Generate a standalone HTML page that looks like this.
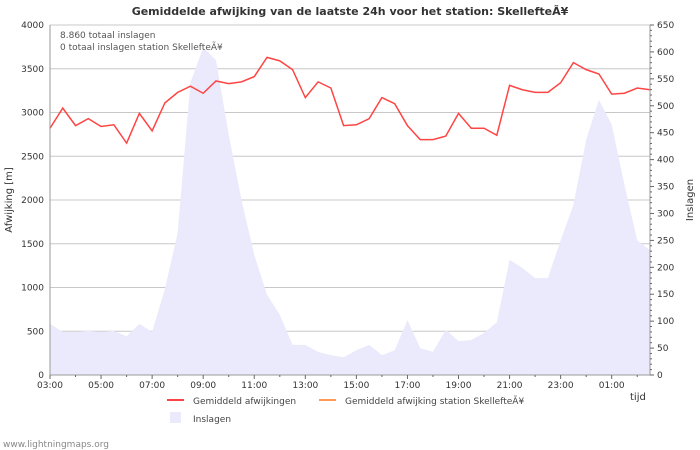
<!DOCTYPE html>
<html><head><meta charset="utf-8"><style>
html,body{margin:0;padding:0;background:#fff;}
svg{display:block;font-family:"DejaVu Sans","Liberation Sans",sans-serif;}
</style></head><body>
<svg id="chart" width="700" height="450" xmlns="http://www.w3.org/2000/svg"></svg>
<script>
const avgDeviation=[2820,3050,2850,2930,2840,2860,2650,2990,2790,3110,3230,3300,3220,3360,3330,3350,3410,3630,3590,3490,3170,3350,3280,2850,2860,2930,3170,3100,2850,2690,2690,2730,2990,2820,2820,2740,3310,3260,3230,3230,3340,3570,3490,3440,3210,3220,3280,3260];
const strikes=[95,80,80,82,80,82,72,95,80,160,264,543,608,585,446,325,223,149,112,56,56,43,37,33,46,56,37,46,102,50,43,84,63,65,78,98,214,199,180,180,250,316,437,511,465,353,250,232];
const xLabels=["03:00","05:00","07:00","09:00","11:00","13:00","15:00","17:00","19:00","21:00","23:00","01:00"];
const leftTicks=[0,500,1000,1500,2000,2500,3000,3500,4000];
const rightTicks=[0,50,100,150,200,250,300,350,400,450,500,550,600,650];

const NS="http://www.w3.org/2000/svg";
const svg=document.getElementById('chart');
const L=50,R=650,T=25,B=375;
const n=avgDeviation.length;
const xs=i=>L+i*(R-L)/(n-1);
const yl=v=>B-v/4000*(B-T);
const yr=v=>B-v/650*(B-T);
function mk(tag,attrs,parent){const e=document.createElementNS(NS,tag);for(const k in attrs)e.setAttribute(k,attrs[k]);(parent||svg).appendChild(e);return e;}

// title
let t=mk('text',{x:350,y:15,'text-anchor':'middle','font-size':11,'font-weight':'bold',fill:'#333'});


t.textContent='Gemiddelde afwijking van de laatste 24h voor het station: SkellefteÃ¥';

// gridlines
leftTicks.forEach(v=>{const g=mk('line',{x1:L,x2:R,y1:yl(v),y2:yl(v),stroke:'#c8c8c8','stroke-width':1});

});

// area
let d='M'+xs(0)+','+B;
strikes.forEach((v,i)=>{d+=' L'+xs(i)+','+yr(v);});
d+=' L'+xs(n-1)+','+B+' Z';
const area=mk('path',{d:d,fill:'#eaeafc',stroke:'none'});



// line
const pts=avgDeviation.map((v,i)=>xs(i)+','+yl(v)).join(' ');
const ln=mk('polyline',{points:pts,fill:'none',stroke:'#ff4444','stroke-width':1.5});



// axes
const ax=mk('path',{d:`M${L},${T} L${L},${B} L${R},${B} M${R},${T} L${R},${B}`,stroke:'#999',fill:'none','stroke-width':1});



// x ticks
for(let i=0;i<n;i+=2){const big=(i%4===0);mk('line',{x1:xs(i),x2:xs(i),y1:B,y2:B+(big?4:2),stroke:'#666'});}
xLabels.forEach((s,k)=>{const e=mk('text',{x:xs(k*4),y:B+13,'text-anchor':'middle','font-size':9,fill:'#333'});


e.textContent=s;});

// left ticks
leftTicks.forEach(v=>{const e=mk('text',{x:L-6,y:yl(v)+3,'text-anchor':'end','font-size':9,fill:'#333'});


e.textContent=v;});
// right ticks
for(let v=0;v<=650;v+=10){mk('line',{x1:R,x2:R+(v%50===0?4:2),y1:yr(v),y2:yr(v),stroke:'#666'});}
rightTicks.forEach(v=>{const e=mk('text',{x:R+7,y:yr(v)+3,'font-size':9,fill:'#333'});


e.textContent=v;});

// axis titles
let a=mk('text',{x:12,y:200,'text-anchor':'middle','font-size':10,fill:'#333',transform:'rotate(-90 12 200)'});


a.textContent='Afwijking  [m]';
a=mk('text',{x:693,y:200,'text-anchor':'middle','font-size':10,fill:'#333',transform:'rotate(-90 693 200)'});


a.textContent='Inslagen';
a=mk('text',{x:630,y:400,'font-size':10,fill:'#333'});


a.textContent='tijd';

// info text
a=mk('text',{x:60,y:38,'font-size':9,fill:'#555'});


a.textContent='8.860 totaal inslagen';
a=mk('text',{x:60,y:50,'font-size':9,fill:'#555'});


a.textContent='0 totaal inslagen station SkellefteÃ¥';

// legend
let g=mk('g',{});


mk('line',{x1:167,x2:184,y1:400,y2:400,stroke:'#ff4444','stroke-width':2},g);
let tt=mk('text',{x:193,y:404,'font-size':9,fill:'#444'},g);tt.textContent='Gemiddeld afwijkingen';
g=mk('g',{});


mk('line',{x1:319,x2:336,y1:400,y2:400,stroke:'#ff9955','stroke-width':2},g);
tt=mk('text',{x:345,y:404,'font-size':9,fill:'#444'},g);tt.textContent='Gemiddeld afwijking station SkellefteÃ¥';
g=mk('g',{});


mk('rect',{x:170,y:412,width:11,height:11,fill:'#eaeafc'},g);
tt=mk('text',{x:193,y:422,'font-size':9,fill:'#444'},g);tt.textContent='Inslagen';

a=mk('text',{x:3,y:447,'font-size':9,fill:'#888'});


a.textContent='www.lightningmaps.org';
</script>
</body></html>
